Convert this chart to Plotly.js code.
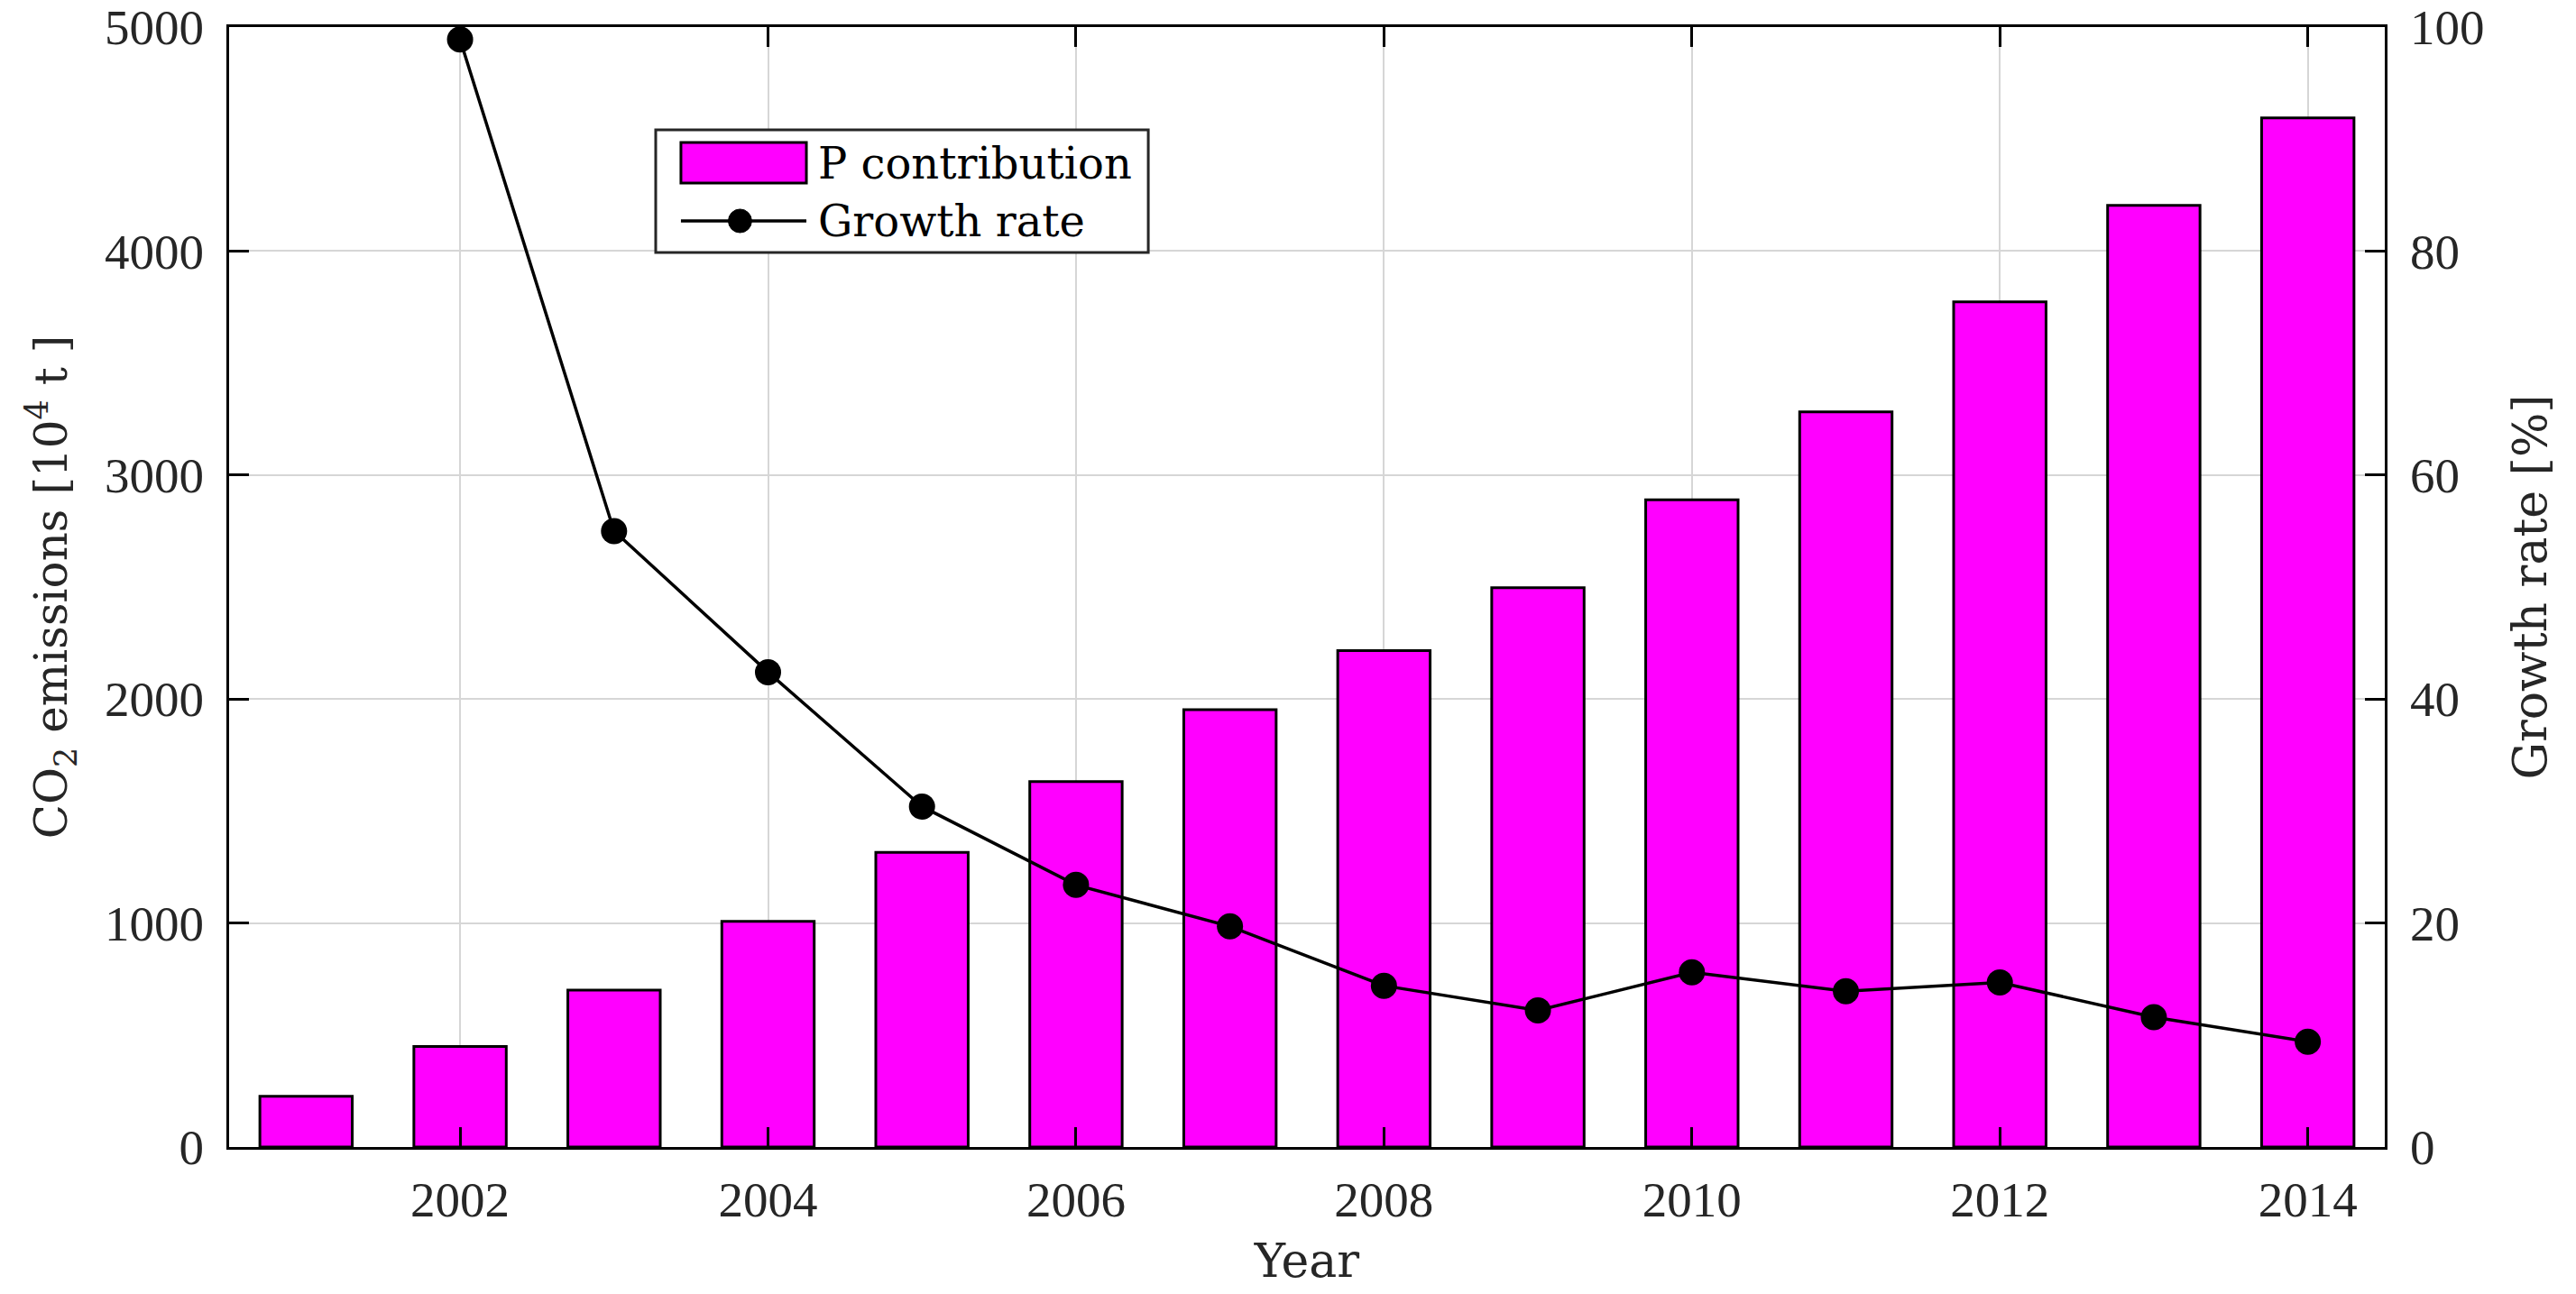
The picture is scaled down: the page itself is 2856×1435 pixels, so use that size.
<!DOCTYPE html>
<html>
<head>
<meta charset="utf-8">
<script src="https://cdn.plot.ly/plotly-3.0.1.min.js"></script>
<style>
html, body { margin: 0; padding: 0; background: #ffffff; }
#chart { width: 2856px; height: 1435px; }
</style>
</head>
<body>
<div id="chart"></div>
<script>
const years = [2001, 2002, 2003, 2004, 2005, 2006, 2007, 2008, 2009, 2010, 2011, 2012, 2013, 2014];
const pContribution = [226, 449, 700, 1007, 1315, 1631, 1952, 2216, 2497, 2889, 3282, 3773, 4204, 4594];
const growthYears = [2002, 2003, 2004, 2005, 2006, 2007, 2008, 2009, 2010, 2011, 2012, 2013, 2014];
const growthRate = [98.9, 55.0, 42.4, 30.4, 23.4, 19.7, 14.4, 12.2, 15.6, 13.9, 14.7, 11.6, 9.4];
const xTickVals = [2002, 2004, 2006, 2008, 2010, 2012, 2014];
const xTickText = ['2002', '2004', '2006', '2008', '2010', '2012', '2014'];
const leftTickVals = [0, 1000, 2000, 3000, 4000, 5000];
const rightTickVals = [0, 20, 40, 60, 80, 100];
const seriesNames = ['P contribution', 'Growth rate'];

const TICKFONT = 'Liberation Serif, Times New Roman, serif';
const TEXTFONT = 'DejaVu Serif, serif';
const BAR_COLOR = '#ff00ff';

const traces = [
  {
    type: 'bar',
    name: seriesNames[0],
    x: years,
    y: pContribution,
    width: 0.6,
    marker: { color: BAR_COLOR, line: { color: '#000000', width: 3 } },
    xaxis: 'x',
    yaxis: 'y'
  },
  {
    type: 'scatter',
    mode: 'lines+markers',
    name: seriesNames[1],
    x: growthYears,
    y: growthRate,
    line: { color: '#000000', width: 3.5 },
    marker: { color: '#000000', size: 29 },
    xaxis: 'x',
    yaxis: 'y2'
  }
];

// Legend drawn in paper coordinates (box, swatches, labels)
const lg = { x0: 0.1979, x1: 0.4264, y0: 0.7987, y1: 0.9082 };
const sw = { x0: 0.2096, x1: 0.2678, yTop: 0.8969, yBot: 0.8607, yLine: 0.8269, cx: 0.2370, rx: 0.0054, ry: 0.0105 };
const textX = 0.2725;

const shapes = [
  { type: 'rect', xref: 'paper', yref: 'paper', x0: lg.x0, x1: lg.x1, y0: lg.y0, y1: lg.y1,
    fillcolor: '#ffffff', line: { color: '#262626', width: 3 }, layer: 'above' },
  { type: 'rect', xref: 'paper', yref: 'paper', x0: sw.x0, x1: sw.x1, y0: sw.yBot, y1: sw.yTop,
    fillcolor: BAR_COLOR, line: { color: '#000000', width: 3 }, layer: 'above' },
  { type: 'line', xref: 'paper', yref: 'paper', x0: sw.x0, x1: sw.x1, y0: sw.yLine, y1: sw.yLine,
    line: { color: '#000000', width: 3.5 }, layer: 'above' },
  { type: 'circle', xref: 'paper', yref: 'paper', x0: sw.cx - sw.rx, x1: sw.cx + sw.rx,
    y0: sw.yLine - sw.ry, y1: sw.yLine + sw.ry,
    fillcolor: '#000000', line: { color: '#000000', width: 1 }, layer: 'above' }
];

const annotations = [
  { xref: 'paper', yref: 'paper', x: textX, y: (sw.yTop + sw.yBot) / 2, xanchor: 'left', yanchor: 'middle',
    text: seriesNames[0], showarrow: false, font: { family: TEXTFONT, size: 48, color: '#000000' } },
  { xref: 'paper', yref: 'paper', x: textX, y: sw.yLine, xanchor: 'left', yanchor: 'middle',
    text: seriesNames[1], showarrow: false, font: { family: TEXTFONT, size: 48, color: '#000000' } }
];

const axisCommon = {
  ticks: 'inside',
  ticklen: 22,
  tickwidth: 3,
  tickcolor: '#000000',
  showline: true,
  linecolor: '#000000',
  linewidth: 3,
  zeroline: false,
  tickfont: { family: TICKFONT, size: 55, color: '#262626' }
};

const layout = {
  width: 2856,
  height: 1435,
  paper_bgcolor: '#ffffff',
  plot_bgcolor: '#ffffff',
  margin: { l: 254, r: 212, t: 30, b: 163 },
  font: { family: TEXTFONT, size: 48, color: '#262626' },
  showlegend: false,
  shapes: shapes,
  annotations: annotations,
  xaxis: Object.assign({}, axisCommon, {
    range: [2000.5, 2014.5],
    tickmode: 'array',
    tickvals: xTickVals,
    ticktext: xTickText,
    mirror: 'ticks',
    showgrid: true,
    gridcolor: '#d6d6d6',
    gridwidth: 2,
    ticklabelstandoff: 8,
    title: { text: 'Year', font: { family: TEXTFONT, size: 52, color: '#262626' }, standoff: 20 }
  }),
  yaxis: Object.assign({}, axisCommon, {
    range: [0, 5000],
    tickmode: 'array',
    tickvals: leftTickVals,
    mirror: true,
    showgrid: true,
    gridcolor: '#d6d6d6',
    gridwidth: 2,
    ticklabelstandoff: 14,
    title: { text: 'CO<sub>2</sub> emissions [10<sup>4</sup> t ]', font: { family: TEXTFONT, size: 50, color: '#262626' }, standoff: 26 }
  }),
  yaxis2: Object.assign({}, axisCommon, {
    range: [0, 100],
    overlaying: 'y',
    side: 'right',
    tickmode: 'array',
    tickvals: rightTickVals,
    showgrid: false,
    ticklabelstandoff: 14,
    title: { text: 'Growth rate [%]', font: { family: TEXTFONT, size: 52, color: '#262626' }, standoff: 34 }
  })
};

Plotly.newPlot('chart', traces, layout, { displayModeBar: false, staticPlot: true });
</script>
</body>
</html>
